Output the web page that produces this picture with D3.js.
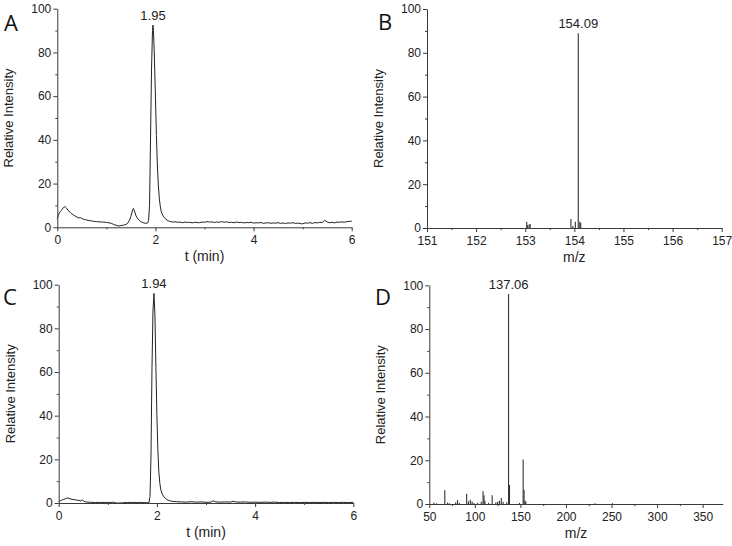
<!DOCTYPE html>
<html><head><meta charset="utf-8">
<script src="https://cdn.jsdelivr.net/npm/d3@7"></script>
<style>body{margin:0;background:#fff}svg{display:block}</style>
</head><body>
<script>
// ---- Data ----
const timeA = [0.00,0.02,0.04,0.06,0.08,0.10,0.12,0.14,0.16,0.18,0.20,0.22,0.24,0.26,0.28,0.30,0.33,0.36,0.40,0.44,0.48,0.50,0.55,0.60,0.65,0.70,0.75,0.80,0.85,0.90,0.95,1.00,1.05,1.10,1.15,1.20,1.25,1.30,1.35,1.40,1.44,1.47,1.50,1.53,1.55,1.57,1.60,1.63,1.67,1.71,1.75,1.80,1.84,1.86,1.88,1.90,1.92,1.94,1.95,1.96,1.98,2.00,2.02,2.04,2.06,2.08,2.10,2.12,2.15,2.18,2.22,2.26,2.30,2.35,
2.40,2.45,2.50,2.55,2.60,2.65,2.70,2.75,2.80,2.85,2.90,2.95,3.00,3.05,3.10,3.15,3.20,3.25,3.30,3.35,3.40,3.45,3.50,3.55,3.60,3.65,3.70,3.75,3.80,3.85,3.90,3.95,4.00,4.05,4.10,4.15,4.20,4.25,4.30,4.35,4.40,4.45,4.50,4.55,4.60,4.65,4.70,4.75,4.80,4.85,4.90,4.95,5.00,5.05,5.10,5.15,5.20,5.25,5.30,5.35,5.40,5.45,5.50,5.55,5.60,5.65,5.70,5.75,5.80,5.85,5.90,5.95,6.00];
const intensityA = [3.8,5.5,6.5,7.2,7.6,8.3,8.9,9.3,9.4,9.0,8.4,7.6,7.3,6.9,6.4,6.1,5.6,5.2,4.7,4.3,4.4,4.0,3.6,3.3,3.1,2.9,2.7,2.6,2.5,2.4,2.4,2.2,2.1,1.8,1.3,0.9,0.6,0.8,1.0,1.3,2.0,3.2,5.0,7.5,8.6,7.6,5.5,4.2,3.2,2.5,2.1,1.8,2.0,3.0,10,40,72,90,92.5,90,77,60,42,28,19,13,9.5,7,5.5,4.5,3.5,3.0,2.6,2.4,
2.5,2.3,2.4,2.1,2.4,2.2,2.3,2.0,2.3,2.2,2.1,2.4,2.3,2.6,2.4,2.5,2.2,2.4,2.3,2.6,2.3,2.5,2.2,2.3,2.1,2.4,2.2,2.3,2.0,2.2,2.1,2.3,1.9,2.1,2.0,2.2,1.8,2.0,2.1,1.8,2.0,1.9,2.1,1.8,2.0,1.7,2.0,1.9,2.1,1.8,1.9,1.7,1.6,2.0,1.9,2.1,1.8,2.2,2.0,2.3,2.2,3.2,2.4,2.1,2.3,2.0,2.4,2.3,2.5,2.3,2.6,2.7,2.8];

const timeC = [0.00,0.03,0.06,0.10,0.14,0.18,0.21,0.25,0.29,0.33,0.37,0.41,0.45,0.48,0.51,0.55,0.60,0.65,0.70,0.75,0.80,0.85,0.90,0.95,1.00,1.05,1.10,1.15,1.20,1.25,1.30,1.35,1.40,1.45,1.50,1.55,1.60,1.65,1.70,1.75,1.80,1.84,1.86,1.88,1.90,1.92,1.94,1.96,1.98,2.00,2.02,2.04,2.06,2.08,2.11,2.15,2.20,2.25,2.30,2.40,
2.50,2.60,2.70,2.80,2.90,3.00,3.10,3.15,3.20,3.30,3.40,3.50,3.55,3.60,3.70,3.80,3.90,4.00,4.10,4.20,4.30,4.40,4.50,4.60,4.70,4.80,4.90,5.00,5.10,5.20,5.30,5.40,5.50,5.60,5.70,5.80,5.90,6.00];
const intensityC = [0.6,1.0,1.3,1.7,2.0,2.3,2.1,1.8,1.6,1.5,1.3,1.2,0.9,1.5,0.8,0.5,0.4,0.3,0.3,0.2,0.3,0.2,0.3,0.2,0.3,0.2,0.4,0.1,0.0,0.0,0.1,0.2,0.2,0.3,0.2,0.3,0.2,0.3,0.2,0.2,0.1,0.3,3,22,62,88,96,86,62,40,24,14,9,6,4,2.6,1.6,1.1,0.8,0.6,
0.5,0.4,0.6,0.4,0.5,0.3,0.4,1.0,0.5,0.4,0.5,0.4,0.8,0.5,0.4,0.5,0.3,0.4,0.3,0.4,0.3,0.4,0.2,0.3,0.2,0.3,0.2,0.3,0.2,0.3,0.2,0.3,0.2,0.3,0.2,0.3,0.2,0.3];

const mzB = [153.03,153.05,153.08,153.10,153.93,153.97,154.02,154.08,154.11,154.13];
const relB = [2.9,1.4,1.6,1.8,4.1,0.9,2.9,88.9,2.9,2.4];

const mzD = [55,58,67,70,72,79,81,83,91,93,95,97,99,103,107,109,110,111,115,119,123,125,127,129,131,135,137,138,149,153,154,155,156,232,251];
const relD = [0.7,0.3,6.3,0.6,0.4,0.8,1.8,0.5,4.7,1.2,2.0,1.2,0.5,0.6,1.0,5.8,4.0,1.5,0.5,4.0,0.8,1.0,1.5,2.8,1.0,0.8,96,8.7,0.5,20.3,6.5,1.5,1.2,0.3,0.3];

const yTicks = [0,20,40,60,80,100];
const yMinor = [10,30,50,70,90];
const tTicks = [0,2,4,6];
const tMinor = [1,3,5];
const mzBTicks = [151,152,153,154,155,156,157];
const mzBMinor = [151.5,152.5,153.5,154.5,155.5,156.5];
const mzDTicks = [50,100,150,200,250,300,350];
const mzDMinor = [75,125,175,225,275,325];

const panelLetters = ["A","B","C","D"];
const peakLabels = ["1.95","154.09","1.94","137.06"];
const peakPos = [[1.95,92.5],[154.08,88.9],[1.94,96],[137,96]];
const xTitles = ["t (min)","m/z","t (min)","m/z"];
const yTitle = "Relative Intensity";

// ---- Drawing ----
const W = 732, H = 546;
const svg = d3.select("body").append("svg").attr("width", W).attr("height", H);
const FONT = "'Liberation Sans', Arial, sans-serif";
const AX = "#3a3a3a";

const panels = [
  {x0:57.3, x1:351.7, y0:227.3, y1:8.7, dom:[0,6], ticks:tTicks, minor:tMinor, type:"line", xs:timeA, ys:intensityA, lx:4, ly:31},
  {x0:427, x1:721.7, y0:228, y1:9, dom:[151,157], ticks:mzBTicks, minor:mzBMinor, type:"stick", xs:mzB, ys:relB, lx:378, ly:30},
  {x0:58.7, x1:353.3, y0:503, y1:284.7, dom:[0,6], ticks:tTicks, minor:tMinor, type:"line", xs:timeC, ys:intensityC, lx:3, ly:305},
  {x0:429.3, x1:722.7, y0:504, y1:285.3, dom:[50,372], ticks:mzDTicks, minor:mzDMinor, type:"stick", xs:mzD, ys:relD, lx:375, ly:305}
];

panels.forEach((p, i) => {
  const x = d3.scaleLinear().domain(p.dom).range([p.x0, p.x1]);
  const y = d3.scaleLinear().domain([0,100]).range([p.y0, p.y1]);
  const g = svg.append("g");

  if (p.type === "line") {
    const pts = p.xs.map((t, k) => [t, p.ys[k]]);
    g.append("path").datum(pts)
      .attr("fill","none").attr("stroke","#222").attr("stroke-width",1)
      .attr("d", d3.line().x(d => x(d[0])).y(d => y(d[1])));
  } else {
    g.selectAll("line.stick").data(p.xs.map((m, k) => [m, p.ys[k]])).join("line")
      .attr("class","stick")
      .attr("x1", d => x(d[0])).attr("x2", d => x(d[0]))
      .attr("y1", y(0)).attr("y2", d => y(d[1]))
      .attr("stroke","#333").attr("stroke-width",1.1);
  }

  const xa = g.append("g").attr("transform",`translate(0,${p.y0})`)
    .call(d3.axisBottom(x).tickValues(p.ticks).tickSize(4).tickSizeOuter(0).tickPadding(4).tickFormat(d3.format("d")));
  const xm = g.append("g").attr("transform",`translate(0,${p.y0})`)
    .call(d3.axisBottom(x).tickValues(p.minor).tickSize(2).tickSizeOuter(0).tickFormat(""));
  const ya = g.append("g").attr("transform",`translate(${p.x0},0)`)
    .call(d3.axisLeft(y).tickValues(yTicks).tickSize(4).tickSizeOuter(0).tickPadding(2));
  const ym = g.append("g").attr("transform",`translate(${p.x0},0)`)
    .call(d3.axisLeft(y).tickValues(yMinor).tickSize(2).tickSizeOuter(0).tickFormat(""));
  [xa, xm, ya, ym].forEach(a => {
    a.selectAll("path,line").attr("stroke", AX).attr("stroke-width", 1);
    a.selectAll("text").attr("fill","#222").style("font-family", FONT).style("font-size","12px");
  });
  xm.select(".domain").remove();
  ym.select(".domain").remove();

  g.append("text").attr("x",(p.x0+p.x1)/2).attr("y",p.y0+34)
    .attr("text-anchor","middle").attr("fill","#222")
    .style("font-family",FONT).style("font-size","14px").text(xTitles[i]);
  const yc = (p.y0+p.y1)/2;
  const yx = p.x0 - 44;
  g.append("text").attr("transform",`translate(${yx},${yc}) rotate(-90)`)
    .attr("text-anchor","middle").attr("fill","#222")
    .style("font-family",FONT).style("font-size","13px").text(yTitle);

  g.append("text").attr("x", x(peakPos[i][0])).attr("y", y(peakPos[i][1]) - 5)
    .attr("text-anchor","middle").attr("fill","#222")
    .style("font-family",FONT).style("font-size","13px").text(peakLabels[i]);

  g.append("text").attr("x",p.lx).attr("y",p.ly).attr("fill","#111")
    .style("font-family","'Open Sans', 'DejaVu Sans', sans-serif").style("font-size","22px").text(panelLetters[i]);
});
</script>
</body></html>
